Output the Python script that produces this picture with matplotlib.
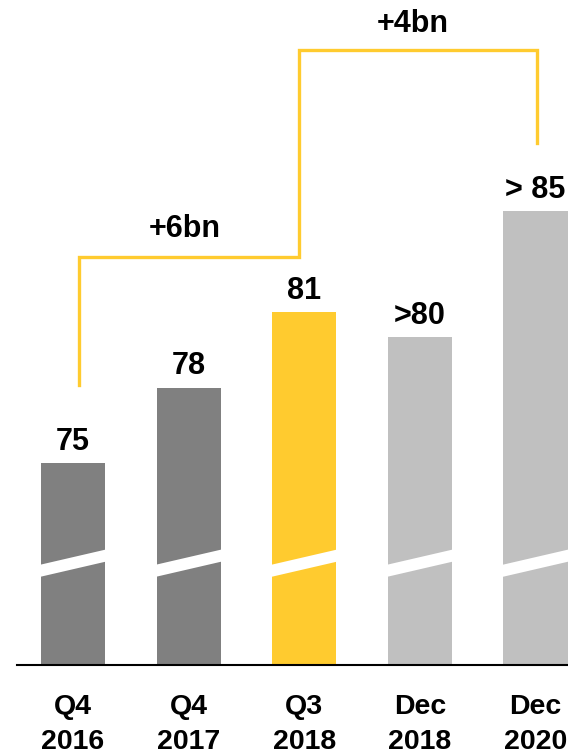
import matplotlib.pyplot as plt
from matplotlib.patches import Polygon

# customers (bn) per period, with the printed labels
periods = ['Q4\n2016', 'Q4\n2017', 'Q3\n2018', 'Dec\n2018', 'Dec\n2020']
values = [75, 78, 81, 80, 85]
value_labels = ['75', '78', '81', '>80', '> 85']
bar_colors = ['#808080', '#808080', '#FFCB2F', '#C0C0C0', '#C0C0C0']
steps = ['+6bn', '+4bn']

plt.rcParams['font.family'] = ['Liberation Sans', 'DejaVu Sans']

fig = plt.figure(figsize=(5.68, 7.54), dpi=100)
ax = fig.add_axes([17 / 568, 89 / 754, 551 / 568, 665 / 754])

x = list(range(len(values)))
bars = ax.bar(x, values, width=0.554, color=bar_colors, zorder=2)

ymin = 67.0
ax.set_ylim(ymin, ymin + 665 / 25.2)
ax.set_xlim(-0.484, 4.281)

# value labels above bars
for xi, v, lab in zip(x, values, value_labels):
    ax.text(xi, v + 0.53, lab, ha='center', va='baseline', fontsize=22,
            fontweight='bold', color='black')

# white slanted stripe marking the broken axis
for xi in x:
    x0, x1 = xi - 0.32, xi + 0.32
    poly = Polygon([(x0, 70.46), (x1, 71.14), (x1, 71.62), (x0, 70.94)],
                   closed=True, facecolor='white', edgecolor='none', zorder=3)
    ax.add_patch(poly)

# step brackets
yc = '#FFCB2F'
lvl1 = values[0] + 8.2
lvl2 = values[2] + 10.4
ax.plot([0.05, 0.05, 1.955, 1.955, 4.01, 4.01],
        [values[0] + 3.1, lvl1, lvl1, lvl2, lvl2, values[4] + 2.7],
        color=yc, lw=2.4, solid_joinstyle='miter', zorder=1, clip_on=False)
ax.text(0.965, lvl1 + 0.8, steps[0], ha='center', va='baseline', fontsize=22,
        fontweight='bold')
ax.text(2.935, lvl2 + 0.71, steps[1], ha='center', va='baseline', fontsize=22,
        fontweight='bold')

# axes styling
for s in ['top', 'right', 'left']:
    ax.spines[s].set_visible(False)
ax.spines['bottom'].set_linewidth(1.5)
ax.spines['bottom'].set_color('black')
ax.set_yticks([])
ax.set_xticks(x)
ax.set_xticklabels(periods, fontsize=20.5, fontweight='bold', linespacing=1.45)
ax.tick_params(axis='x', length=0, pad=21)

fig.savefig('out.png', dpi=100)
